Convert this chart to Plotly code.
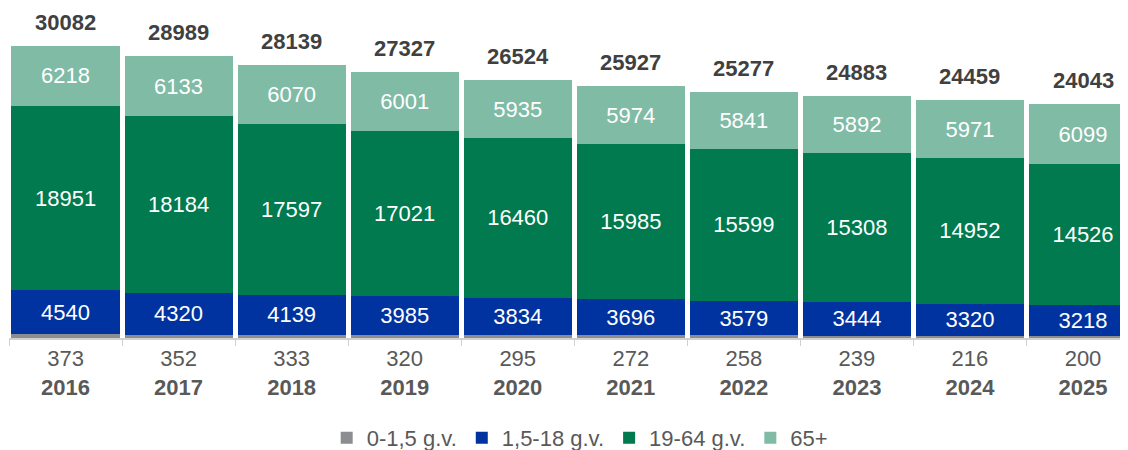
import plotly.graph_objects as go

years = ["2016", "2017", "2018", "2019", "2020", "2021", "2022", "2023", "2024", "2025"]
age_0_1_5 = [373, 352, 333, 320, 295, 272, 258, 239, 216, 200]
age_1_5_18 = [4540, 4320, 4139, 3985, 3834, 3696, 3579, 3444, 3320, 3218]
age_19_64 = [18951, 18184, 17597, 17021, 16460, 15985, 15599, 15308, 14952, 14526]
age_65 = [6218, 6133, 6070, 6001, 5935, 5974, 5841, 5892, 5971, 6099]
series_names = ["0-1,5 g.v.", "1,5-18 g.v.", "19-64 g.v.", "65+"]
colors = ["#8B8D90", "#0033A0", "#007A4E", "#80BBA6"]

FONT = "Arial, Liberation Sans, sans-serif"
FS = 22
totals = [a + b + c + d for a, b, c, d in zip(age_0_1_5, age_1_5_18, age_19_64, age_65)]

fig = go.Figure()
for name, vals, col in zip(series_names, [age_0_1_5, age_1_5_18, age_19_64, age_65], colors):
    show_text = name != series_names[0]
    fig.add_trace(go.Bar(
        x=years, y=vals, name=name,
        marker=dict(color=col, line=dict(width=0)),
        text=[str(v) for v in vals] if show_text else None,
        textposition="inside" if show_text else "none",
        insidetextanchor="middle",
        textangle=0,
        constraintext="none",
        textfont=dict(family=FONT, size=FS, color="white"),
        hoverinfo="skip",
    ))

for i, tot in enumerate(totals):
    fig.add_annotation(x=i, y=tot, xref="x", yref="y", text=f"<b>{tot}</b>",
                       showarrow=False, yanchor="middle", yshift=23.5,
                       font=dict(family=FONT, size=FS, color="#404040"))

ticktext = [f"{v}<br><b>{y}</b>" for v, y in zip(age_0_1_5, years)]

# page has an 8px body margin, so the figure is offset by (8, 8)
fig.update_layout(
    width=1128, height=450,
    barmode="stack", bargap=0.044,
    plot_bgcolor="white", paper_bgcolor="white",
    margin=dict(l=0.5, r=8, t=2, b=120, autoexpand=False),
    font=dict(family=FONT, size=FS, color="#595959"),
    xaxis=dict(
        type="category", range=[-0.5, 9.398], automargin=False,
        tickmode="array", tickvals=years, ticktext=ticktext,
        tickson="boundaries", ticks="outside", ticklen=6, tickcolor="#D0D0D0",
        showline=True, linecolor="#D0D0D0", linewidth=1.5,
        tickfont=dict(family=FONT, size=FS, color="#595959"),
        showgrid=False, zeroline=False,
    ),
    yaxis=dict(range=[0, 33755], visible=False, showgrid=False, zeroline=False,
               automargin=False),
    legend=dict(orientation="h", x=0.51, xanchor="center", y=-0.305, yanchor="middle",
                font=dict(family=FONT, size=FS, color="#595959"), traceorder="normal"),
    showlegend=True,
)

fig.write_html("out.html", config={"displayModeBar": False})
